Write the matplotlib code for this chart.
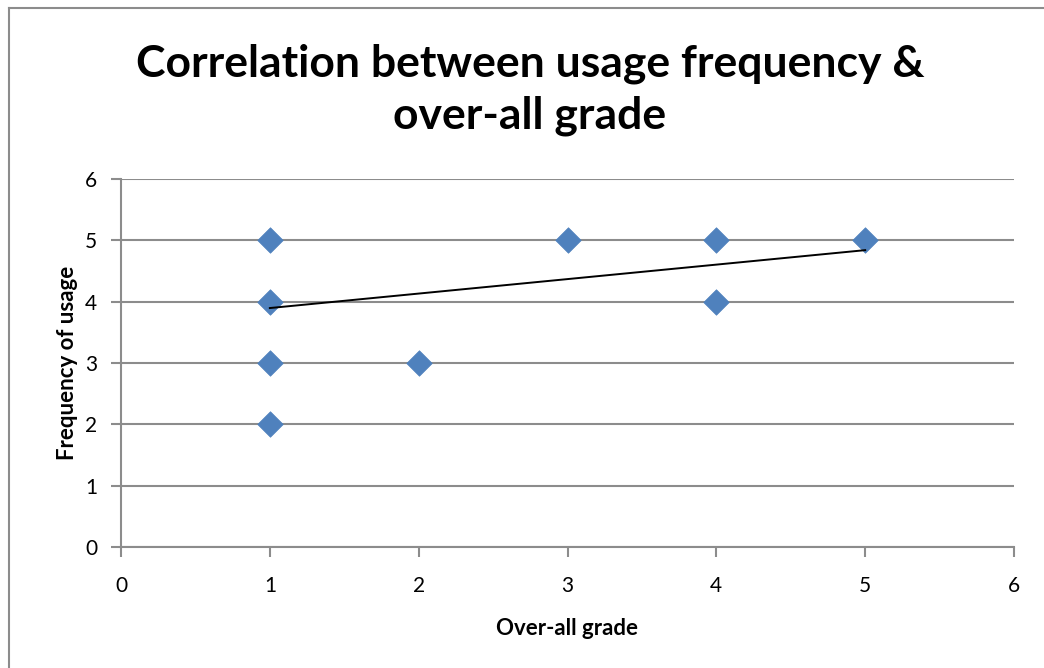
import matplotlib
matplotlib.use("Agg")
import numpy as np
import matplotlib.pyplot as plt
from matplotlib.lines import Line2D

plt.rcParams['font.family'] = ['Lato', 'DejaVu Sans']

# data
grade = [1, 1, 1, 1, 2, 3, 4, 4, 5]
usage = [5, 4, 3, 2, 3, 5, 5, 4, 5]

# linear trendline as drawn in the original
TREND_SLOPE = 0.236
TREND_INTERCEPT = 3.66

x_ticks = [0, 1, 2, 3, 4, 5, 6]
y_ticks = [0, 1, 2, 3, 4, 5, 6]

GRID_COLOR = "#8c8c8c"
MARKER_COLOR = "#4f81bd"

fig = plt.figure(figsize=(10.44, 6.68), dpi=100)
ax = fig.add_axes([121 / 1044, 1 - 547 / 668, (1014 - 121) / 1044, (547 - 179) / 668])

ax.scatter(grade, usage, marker="D", s=13 ** 2, color=MARKER_COLOR,
           edgecolors=MARKER_COLOR, linewidths=0.5, zorder=3)

tx = np.array([min(grade), max(grade)])
ax.plot(tx, TREND_SLOPE * tx + TREND_INTERCEPT, color="black", lw=1.4, zorder=4)

ax.set_xlim(0, 6)
ax.set_ylim(0, 6)
ax.set_xticks(x_ticks)
ax.set_yticks(y_ticks)
ax.yaxis.grid(True, color=GRID_COLOR, lw=1.5)
ax.set_axisbelow(True)

for side in ["top", "right"]:
    ax.spines[side].set_visible(False)
for side in ["left", "bottom"]:
    ax.spines[side].set_color(GRID_COLOR)
    ax.spines[side].set_linewidth(1.5)

ax.tick_params(axis="both", direction="out", length=7, width=1.5, color=GRID_COLOR,
               labelsize=15)
ax.tick_params(axis="x", pad=14)
ax.tick_params(axis="y", pad=10)

ax.set_xlabel("Over-all grade", fontsize=16, fontweight="bold", labelpad=16)
ax.set_ylabel("Frequency of usage", fontsize=16, fontweight="bold", labelpad=5)

fig.text(530 / 1044, 1 - 90 / 668, "Correlation between usage frequency &\nover-all grade",
         ha="center", va="center", fontsize=32, fontweight="bold", linespacing=1.35)

# chart frame (left and top edges visible in the crop)
fig.add_artist(Line2D([9 / 1044, 9 / 1044], [0, 1 - 8 / 668], color=GRID_COLOR, lw=1.5))
fig.add_artist(Line2D([9 / 1044, 1], [1 - 8 / 668, 1 - 8 / 668], color=GRID_COLOR, lw=1.5))

plt.savefig("out.png", dpi=100)
